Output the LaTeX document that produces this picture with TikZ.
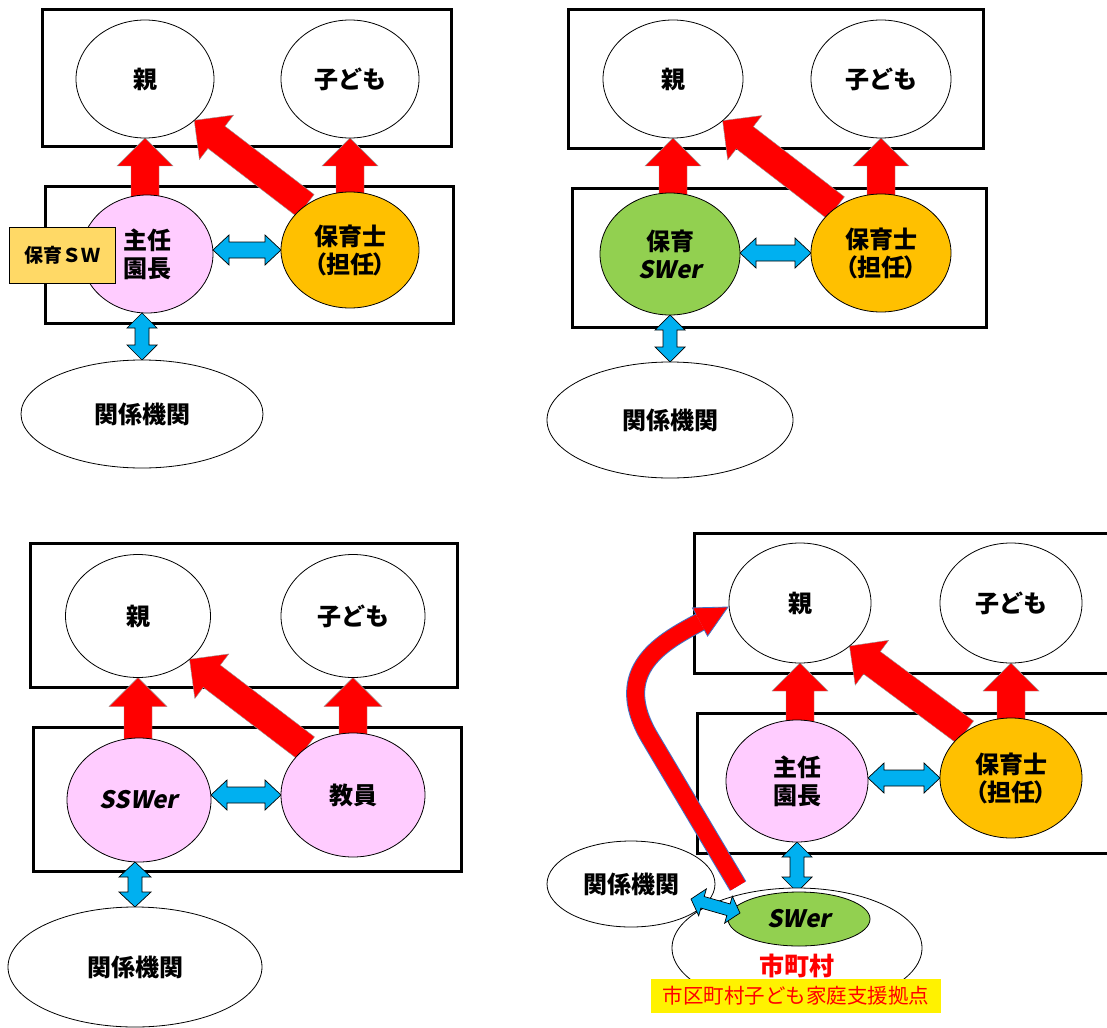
\documentclass[tikz,border=0pt]{standalone}
\usepackage{fontspec}
\usetikzlibrary{shapes.geometric,calc,backgrounds}
\newfontfamily\jp{Noto Sans CJK JP}[BoldFont={Noto Sans CJK JP Black}]
\newfontfamily\jpp{Noto Sans CJK JP}[BoldFont={Noto Sans CJK JP Black},RawFeature=+palt]
\newfontfamily\jpsl{Noto Sans CJK JP}[BoldFont={Noto Sans CJK JP Black},FakeSlant=0.2]
\definecolor{pinkf}{HTML}{FFCCFF}
\definecolor{orangef}{HTML}{FFC000}
\definecolor{greenf}{HTML}{92D050}
\definecolor{bluef}{HTML}{00B0F0}
\definecolor{swyellow}{HTML}{FFD966}
\definecolor{redf}{HTML}{FF0000}
\definecolor{curveedge}{HTML}{4472C4}
\newcommand\singlearrow[6]{%
  \coordinate (sa-c) at ($(#3)!#6!(#2)$);
  \draw[#1] ($(#2)!#4!90:(#3)$) -- ($(sa-c)!#4!90:(#3)$) -- ($(sa-c)!#5!90:(#3)$) -- (#3)
    -- ($(sa-c)!#5!-90:(#3)$) -- ($(sa-c)!#4!-90:(#3)$) -- ($(#2)!#4!-90:(#3)$) -- cycle;
}
\newcommand\doublearrow[6]{%
  \coordinate (da-a) at ($(#2)!#6!(#3)$);
  \coordinate (da-b) at ($(#3)!#6!(#2)$);
  \draw[#1] (#2) -- ($(da-a)!#5!90:(#3)$) -- ($(da-a)!#4!90:(#3)$) -- ($(da-b)!#4!90:(#3)$)
    -- ($(da-b)!#5!90:(#3)$) -- (#3) -- ($(da-b)!#5!-90:(#3)$) -- ($(da-b)!#4!-90:(#3)$)
    -- ($(da-a)!#4!-90:(#3)$) -- ($(da-a)!#5!-90:(#3)$) -- cycle;
}
\begin{document}
\begin{tikzpicture}[x=1pt,y=-1pt,
  frame/.style={draw=black, line width=3pt, rectangle, inner sep=0pt, outer sep=0pt},
  frameline/.style={draw=black, line width=3pt, line join=miter},
  oval/.style={ellipse, draw=black, line width=0.8pt, fill=white, inner sep=0pt, outer sep=0pt, align=center, font=\jp\bfseries\fontsize{24}{28}\selectfont},
  redarrow/.style={fill=redf, draw=black!40, line width=0.4pt, line join=miter},
  bluearrow/.style={fill=bluef, draw=black, line width=0.7pt, line join=miter},
  swbox/.style={rectangle, draw=black, line width=0.6pt, fill=swyellow, inner sep=0pt, minimum width=106, minimum height=56, font=\jp\bfseries\fontsize{19}{22}\selectfont},
]
\useasboundingbox (0,0) rectangle (1107,1027);

% ---------- panel 1 ----------
\node[oval, minimum width=138, minimum height=118] (oya1) at (145,79) {親};
\node[oval, minimum width=138, minimum height=118] (ko1) at (350,79) {子ども};
\node[oval, fill=pinkf, minimum width=132, minimum height=118] (shu1) at (147,254) {主任\\園長};
\node[oval, fill=orangef, minimum width=138, minimum height=116] (hoi1) at (350,250) {保育士\\{\jpp （担任）}};
\node[oval, minimum width=242, minimum height=108] (kan1) at (142,414) {関係機関};
\node[swbox] (sw1) at (62,255) {保育ＳＷ};

% ---------- panel 2 ----------
\node[oval, minimum width=140, minimum height=118] (oya2) at (673,79) {親};
\node[oval, minimum width=140, minimum height=118] (ko2) at (881,79) {子ども};
\node[oval, fill=greenf, minimum width=140, minimum height=122] (sw2) at (670,254) {保育\\{\jpsl SWer}};
\node[oval, fill=orangef, minimum width=140, minimum height=118] (hoi2) at (881,253) {保育士\\{\jpp （担任）}};
\node[oval, minimum width=246, minimum height=116] (kan2) at (670,420) {関係機関};

% ---------- panel 3 ----------
\node[oval, minimum width=145, minimum height=123] (oya3) at (138,616) {親};
\node[oval, minimum width=144, minimum height=123] (ko3) at (353,616) {子ども};
\node[oval, fill=pinkf, minimum width=144, minimum height=124] (ssw3) at (139,800) {{\jpsl SSWer}};
\node[oval, fill=pinkf, minimum width=144, minimum height=124] (kyo3) at (353,795) {教員};
\node[oval, minimum width=254, minimum height=120] (kan3) at (135,967) {関係機関};

% ---------- panel 4 ----------
\node[oval, minimum width=142, minimum height=120] (oya4) at (800,603) {親};
\node[oval, minimum width=142, minimum height=120] (ko4) at (1011,603) {子ども};
\node[oval, fill=pinkf, minimum width=142, minimum height=122] (shu4) at (797,781) {主任\\園長};
\node[oval, fill=orangef, minimum width=142, minimum height=120] (hoi4) at (1011,778) {保育士\\{\jpp （担任）}};
\node[oval, minimum width=250, minimum height=120] (city4) at (797,948) {};
\node[oval, fill=none, minimum width=168, minimum height=86] (kan4) at (631,884) {関係機関};
\node[oval, fill=greenf, minimum width=142, minimum height=54] (swer4) at (799,919) {{\jpsl SWer}};
\node[font=\jp\bfseries\fontsize{25}{28}\selectfont, text=redf, inner sep=0pt] (citylab) at (797,966) {市町村};
\node[fill=yellow, minimum width=290, minimum height=34, inner sep=0pt, font=\jp\fontsize{20.5}{24}\selectfont, text=redf] (base4) at (796,996) {市区町村子ども家庭支援拠点};

% blue arrow (panel 4, diagonal) and curved red arrow on top
\coordinate (b4l) at ($(kan4.east)+(-24,15)$);
\coordinate (b4r) at ($(swer4.west)+(12,-6)$);
\doublearrow{bluearrow}{b4l}{b4r}{6pt}{14pt}{12pt}

\coordinate (cvs) at (738,886);
\coordinate (cvm) at (650,738);
\coordinate (cvtip) at ($(oya4.west)+(-1,4)$);
\coordinate (cvb) at ($(cvtip)+(-28,15)$);
\draw[curveedge, line width=19pt] (cvs) -- (cvm) .. controls (609,669) and (665,641) .. (cvb);
\draw[redf, line width=17pt] (cvs) -- (cvm) .. controls (609,669) and (665,641) .. (cvb);
\fill[redf] ($(cvb)!16pt!90:(cvtip)$) -- (cvtip) -- ($(cvb)!16pt!-90:(cvtip)$) -- cycle;
\draw[curveedge, line width=0.8pt] ($(cvb)!8.5pt!90:(cvtip)$) -- ($(cvb)!16pt!90:(cvtip)$) -- (cvtip) -- ($(cvb)!16pt!-90:(cvtip)$) -- ($(cvb)!8.5pt!-90:(cvtip)$);

\begin{pgfonlayer}{background}
\fill[white] (0,0) rectangle (1107,1027);
% frames
\node[frame, minimum width=409, minimum height=137] (f1a) at (246.5,78.5) {};
\node[frame, minimum width=408, minimum height=137] (f1b) at (249,254.5) {};
\node[frame, minimum width=415, minimum height=139] (f2a) at (775.5,79.5) {};
\node[frame, minimum width=414, minimum height=139] (f2b) at (779,257.5) {};
\node[frame, minimum width=427, minimum height=144] (f3a) at (243.5,615) {};
\node[frame, minimum width=428, minimum height=144] (f3b) at (247,799) {};
\draw[frameline] (1110,533) -- (694,533) -- (694,673) -- (1110,673);
\draw[frameline] (1110,713) -- (697,713) -- (697,853) -- (1110,853);

% panel 1 arrows
\coordinate (r1a) at ($(oya1.south |- shu1.north)+(0,4)$);
\singlearrow{redarrow}{r1a}{oya1.south}{14pt}{28pt}{28pt}
\coordinate (r1b) at ($(ko1.south |- hoi1.north)+(0,4)$);
\singlearrow{redarrow}{r1b}{ko1.south}{14pt}{28pt}{28pt}
\singlearrow{redarrow}{hoi1.135}{oya1.-40}{14pt}{28pt}{28pt}
\coordinate (b1a) at (shu1.east |- hoi1.west);
\doublearrow{bluearrow}{b1a}{hoi1.west}{8pt}{15pt}{16pt}
\coordinate (b1b) at (kan1.north |- shu1.south);
\doublearrow{bluearrow}{b1b}{kan1.north}{7pt}{15pt}{15pt}

% panel 2 arrows
\coordinate (r2a) at ($(oya2.south |- sw2.north)+(0,4)$);
\singlearrow{redarrow}{r2a}{oya2.south}{14pt}{28pt}{28pt}
\coordinate (r2b) at ($(ko2.south |- hoi2.north)+(0,4)$);
\singlearrow{redarrow}{r2b}{ko2.south}{14pt}{28pt}{28pt}
\singlearrow{redarrow}{hoi2.135}{oya2.-40}{14pt}{28pt}{28pt}
\coordinate (b2a) at (sw2.east |- hoi2.west);
\doublearrow{bluearrow}{b2a}{hoi2.west}{8pt}{15pt}{16pt}
\coordinate (b2b) at (kan2.north |- sw2.south);
\doublearrow{bluearrow}{b2b}{kan2.north}{7pt}{15pt}{15pt}

% panel 3 arrows
\coordinate (r3a) at ($(oya3.south |- ssw3.north)+(0,4)$);
\singlearrow{redarrow}{r3a}{oya3.south}{14pt}{29pt}{29pt}
\coordinate (r3b) at ($(ko3.south |- kyo3.north)+(0,4)$);
\singlearrow{redarrow}{r3b}{ko3.south}{14pt}{29pt}{29pt}
\singlearrow{redarrow}{kyo3.135}{oya3.-40}{14pt}{28pt}{28pt}
\coordinate (b3a) at (ssw3.east |- kyo3.west);
\doublearrow{bluearrow}{b3a}{kyo3.west}{8pt}{15pt}{16pt}
\coordinate (b3b) at (kan3.north |- ssw3.south);
\doublearrow{bluearrow}{b3b}{kan3.north}{7pt}{16pt}{15pt}

% panel 4 arrows
\coordinate (r4a) at ($(oya4.south |- shu4.north)+(0,4)$);
\singlearrow{redarrow}{r4a}{oya4.south}{14pt}{28pt}{28pt}
\coordinate (r4b) at ($(ko4.south |- hoi4.north)+(0,4)$);
\singlearrow{redarrow}{r4b}{ko4.south}{14pt}{28pt}{28pt}
\singlearrow{redarrow}{hoi4.135}{oya4.-41}{14pt}{28pt}{28pt}
\coordinate (b4a) at (shu4.east |- hoi4.west);
\doublearrow{bluearrow}{b4a}{hoi4.west}{8pt}{15pt}{16pt}
\coordinate (b4b) at (shu4.south |- swer4.north);
\doublearrow{bluearrow}{shu4.south}{b4b}{7pt}{15pt}{15pt}
\end{pgfonlayer}
\end{tikzpicture}
\end{document}
